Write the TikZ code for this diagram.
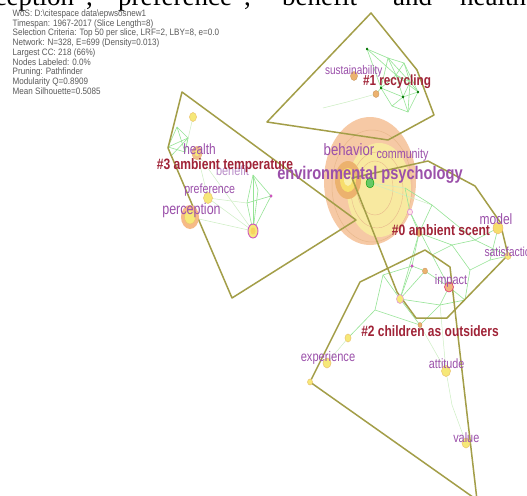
\documentclass[tikz,border=0pt]{standalone}
\usepackage{fontspec}
\usepackage{graphicx}
\setmainfont{Liberation Serif}
\newfontfamily\lblfont[FakeStretch=0.8]{Liberation Sans}
\newfontfamily\legfont[FakeStretch=0.87]{Liberation Sans}
\definecolor{polyc}{RGB}{163,158,72}
\definecolor{labpurple}{RGB}{155,80,170}
\definecolor{lightpurple}{RGB}{185,140,200}
\definecolor{clusred}{RGB}{160,35,55}
\definecolor{leggray}{RGB}{90,90,90}
\definecolor{edgegreen}{RGB}{150,228,150}
\definecolor{faintgreen}{RGB}{205,238,195}
\definecolor{halo}{RGB}{245,192,150}
\definecolor{ring}{RGB}{232,184,140}
\definecolor{yel}{RGB}{246,232,120}
\definecolor{yelb}{RGB}{236,196,110}
\definecolor{ora}{RGB}{236,178,110}
\definecolor{mag}{RGB}{205,85,190}
\tikzset{
  plab/.style={text=labpurple, inner sep=0pt, font=\lblfont\fontsize{#1}{#1}\selectfont},
  clab/.style={text=clusred, inner sep=0pt, font=\lblfont\bfseries\fontsize{#1}{#1}\selectfont},
  toptext/.style={inner sep=0pt, text=black, font=\fontsize{27}{27}\selectfont},
  hull/.style={draw=polyc, line width=1.5pt, line join=round},
  gedge/.style={draw=edgegreen, line width=0.6pt},
  fedge/.style={draw=faintgreen, line width=0.5pt},
  ynode/.style={fill=yel, draw=yelb, line width=0.5pt},
  onode/.style={fill=ora, draw=ora!85!black, line width=0.4pt},
  mnode/.style={fill=yel, draw=mag, line width=0.9pt},
}
\begin{document}
\begin{tikzpicture}[x=1pt,y=-1pt]
\useasboundingbox (0,0) rectangle (527,495);
\clip (0,0) rectangle (527,495);
\fill[white] (0,0) rectangle (527,495);

% clipped body text at the top
\node[toptext, anchor=base east] (tw1) at (93,5.5) {perception",};
\node[toptext, anchor=base west] (tw2) at (106,5.5) {"preference",};
\node[toptext, anchor=base west] (tw3) at (270,5.5) {"benefit"};
\node[toptext, anchor=base west] (tw4) at (393,5.5) {and};
\node[toptext, anchor=base west] (tw5) at (448,5.5) {"health".};

% legend
\node[anchor=north west, inner sep=0pt, align=left, text=leggray,
      font=\legfont\fontsize{9.3}{9.75}\selectfont] (legend) at (12.5,9.5)
  {WoS: D:\textbackslash citespace data\textbackslash epwsosnew1\\
   Timespan: 1967-2017 (Slice Length=8)\\
   Selection Criteria: Top 50 per slice, LRF=2, LBY=8, e=0.0\\
   Network: N=328, E=699 (Density=0.013)\\
   Largest CC: 218 (66\%)\\
   Nodes Labeled: 0.0\%\\
   Pruning: Pathfinder\\
   Modularity Q=0.8909\\
   Mean Silhouette=0.5085};

% big central node halo
\fill[halo, opacity=0.85] (370,181) ellipse (46 and 64);
\draw[ring, line width=0.5pt] (372,186) ellipse (40 and 56);
\fill[yel!70!white, opacity=0.85] (379,190) ellipse (32 and 47);
\draw[ring, line width=0.4pt] (377,190) ellipse (26 and 38);
\draw[ring, line width=0.4pt] (375,188) ellipse (18 and 27);
\fill[ora] (348,180) ellipse (13 and 19);
\fill[yel!90!orange] (348,180) ellipse (8 and 12);
\fill[yel!60!white] (348,180) ellipse (4 and 6);

% coordinates of the network
\foreach \n/\p in {a/{367,49}, b/{388,58}, c/{404,63}, d/{396,75}, e/{381,88},
  f/{410,82}, g/{403,97}, h/{418,92}, i/{392,106}, j/{408,112}, k/{376,94},
  l/{347,102}, m/{323,108}}
  \coordinate (g\n) at (\p);
\foreach \n/\p in {1/{168,147}, 2/{177,127}, 3/{188,138}, 4/{171,156}, 5/{185,152},
  6/{193,117}, 7/{197,153}, 8/{208,198}, 9/{190,217}}
  \coordinate (h\n) at (\p);
\foreach \n/\p in {1/{253,175}, 2/{247,203}, 3/{253,231}, 4/{271,196}, 5/{258,190}}
  \coordinate (k\n) at (\p);
\foreach \n/\p in {1/{405,188}, 2/{410,212}, 3/{419,233}, 4/{432,205}, 5/{452,245},
  6/{475,240}, 7/{498,228}, 8/{470,270}, 9/{412,266}, 10/{425,271}, 11/{449,287},
  12/{400,299}, 13/{440,305}, 14/{465,300}, 15/{420,325}, 16/{383,275},
  17/{348,338}, 18/{375,310}, 19/{446,371}, 20/{466,443}, 21/{327,363},
  22/{432,255}, 23/{490,260}, 24/{452,405}, 25/{370,183}, 26/{508,256}}
  \coordinate (n\n) at (\p);

% faint edges
\foreach \u/\v in {h7/k3, h9/k3, h8/k3, h6/h5, h7/h8, gm/gl, gl/gk, n25/n1, n25/n4,
  n19/n24, n24/n20, n17/n21, n13/n19, n15/n19, h8/k2}
  \draw[fedge] (\u) -- (\v);
% green edges
\foreach \u/\v in {ga/gb, ga/ge, gb/gc, gb/gd, gc/gd, gc/gf, gd/ge, gd/gf, gd/gg,
  ge/gg, ge/gi, gf/gg, gf/gh, gg/gh, gg/gi, gg/gj, gi/gj, gh/gj, gb/gf, ge/gk,
  gd/gh, gc/gh, ga/gd, gb/ge, gf/gj,
  h1/h2, h2/h3, h3/h5, h1/h4, h1/h5, h2/h5, h3/h4, h1/h3,
  k1/k2, k2/k3, k3/k4, k4/k1, k2/k4, k1/k5, k5/k3, k1/k3,
  n1/n2, n2/n3, n1/n4, n4/n3, n3/n5, n5/n6, n6/n7, n4/n6, n5/n8, n3/n9,
  n9/n10, n10/n11, n9/n12, n12/n13, n13/n11, n11/n14, n14/n8, n12/n16,
  n16/n18, n18/n15, n15/n13, n12/n15, n17/n18, n22/n11, n22/n5, n2/n22,
  n8/n23, n23/n7, n16/n9, n10/n12, n3/n12, n6/n26, n23/n26, n14/n13}
  \draw[gedge] (\u) -- (\v);

% cluster hulls
\draw[hull] (371,13) -- (417,70) -- (434,115) -- (388,140) -- (267,122) -- cycle;
\draw[hull] (182,92) -- (356,220) -- (232,298) -- (168,148) -- cycle;
\draw[hull] (352,178) -- (428,161) -- (475,186) -- (500,222) -- (508,255)
  -- (447,318) -- (416,318) -- (397,292) -- cycle;
\draw[hull] (425,250) -- (450,267) -- (477,500) -- (310,382) -- (360,282) -- cycle;

% small nodes
\filldraw[onode] (354,76) ellipse (3.5 and 4.5);
\filldraw[onode] (376,94) ellipse (3 and 3.5);
\foreach \q in {ga, ge, gg, gh} \fill[black!55!green] (\q) ellipse (1.2 and 1.5);
\filldraw[fill=green!65!black!60, draw=green!60!black] (n25) ellipse (4 and 5);
\filldraw[ynode] (h6) ellipse (3.5 and 4.5);
\filldraw[fill=ora!80!white, draw=ora] (h7) ellipse (5 and 6.5);
\fill[yel] (h7) ellipse (2.5 and 3.2);
\filldraw[ynode] (h8) ellipse (4.5 and 5.5);
\fill[halo!90!orange] (h9) ellipse (9 and 12);
\filldraw[ynode] (h9) ellipse (5.5 and 7);
\filldraw[mnode] (k3) ellipse (5 and 7);
\fill[yel!80!orange] (k3) ellipse (2.5 and 3.5);
\fill[mag] (k4) ellipse (1.5 and 1.8);
\filldraw[fill=pink!40, draw=mag!70, line width=0.6pt] (n2) ellipse (2.5 and 3);
\filldraw[onode] (n3) ellipse (3 and 3.5);
\filldraw[fill=yel!90!orange, draw=ora] (n7) ellipse (5 and 6);
\filldraw[ynode] (n26) ellipse (3 and 3.5);
\fill[mag] (n9) ellipse (1.5 and 1.8);
\filldraw[onode] (n10) ellipse (2.5 and 3);
\filldraw[fill=ora!80!pink, draw=mag!60!red, line width=0.6pt] (n11) ellipse (4.5 and 5);
\filldraw[fill=yel, draw=mag!60, line width=0.6pt] (n12) ellipse (3.5 and 4.5);
\filldraw[onode] (n15) ellipse (2 and 2.5);
\filldraw[ynode] (n17) ellipse (3 and 4);
\filldraw[ynode] (n21) ellipse (4 and 5);
\filldraw[ynode] (310,382) ellipse (2.5 and 3);
\filldraw[ynode] (n19) ellipse (4.5 and 5.5);
\filldraw[ynode] (n20) ellipse (4 and 5);

% labels
\node[plab=12.5] (lsus) at (353.7,71) {sustainability};
\node[clab=14.7] (c1) at (397,82) {\#1 recycling};
\node[plab=14.9] (lhealth) at (199.5,149) {health};
\node[plab=13.7, text=lightpurple] (lbenefit) at (232.5,171) {benefit};
\node[clab=15.1] (c3) at (225,166) {\#3 ambient temperature};
\node[plab=13.3] (lpref) at (209.7,190) {preference};
\node[plab=15.6] (lperc) at (191.5,210) {perception};
\node[plab=16.5] (lbeh) at (349,150) {behavior};
\node[plab=13.4] (lcomm) at (402.5,155.5) {community};
\node[plab=18.3, font=\lblfont\bfseries\fontsize{18.3}{18.3}\selectfont] (lenv) at (370,175) {environmental psychology};
\node[clab=15.1] (c0) at (441,230) {\#0 ambient scent};
\node[plab=15] (lmodel) at (496,219.5) {model};
\node[plab=13, anchor=west] (lsat) at (484.3,251.7) {satisfaction};
\node[plab=13.7] (limpact) at (451,281) {impact};
\node[clab=15] (c2) at (430,331) {\#2 children as outsiders};
\node[plab=13.9] (lexp) at (328,358) {experience};
\node[plab=13.5] (latt) at (446.7,364) {attitude};
\node[plab=13.6] (lval) at (466.3,438) {value};
\end{tikzpicture}
\end{document}
